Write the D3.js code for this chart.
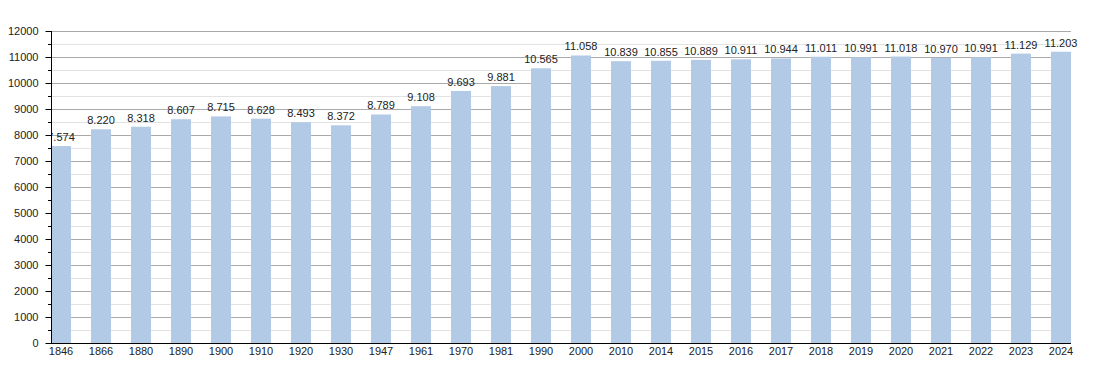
<!DOCTYPE html>
<html>
<head>
<meta charset="utf-8">
<script src="https://cdn.jsdelivr.net/npm/d3@7"></script>
<style>
  body { margin: 0; background: #fff; }
  text { font-family: "Liberation Sans", Arial, sans-serif; font-size: 11px; fill: #222; }
</style>
</head>
<body>
<svg id="chart" width="1100" height="373"></svg>
<script>
// population by census year
var years = ["1846", "1866", "1880", "1890", "1900", "1910", "1920", "1930", "1947", "1961",
             "1970", "1981", "1990", "2000", "2010", "2014", "2015", "2016", "2017", "2018",
             "2019", "2020", "2021", "2022", "2023", "2024"];
var population = [7574, 8220, 8318, 8607, 8715, 8628, 8493, 8372, 8789, 9108,
                  9693, 9881, 10565, 11058, 10839, 10855, 10889, 10911, 10944, 11011,
                  10991, 11018, 10970, 10991, 11129, 11203];
var yTicks = [0, 1000, 2000, 3000, 4000, 5000, 6000, 7000, 8000, 9000, 10000, 11000, 12000];
var yMinor = [500, 1500, 2500, 3500, 4500, 5500, 6500, 7500, 8500, 9500, 10500, 11500];

var plotLeft = 51, plotRight = 1071, plotTop = 31, plotBottom = 343;

var svg = d3.select("#chart");

var x = d3.scaleBand()
          .domain(years)
          .range([plotLeft, plotRight])
          .paddingInner(0.5)
          .paddingOuter(0);

var y = d3.scaleLinear()
          .domain([0, 12000])
          .range([plotBottom, plotTop]);

// minor grid
svg.append("g")
   .selectAll("line")
   .data(yMinor)
   .enter()
   .append("line")
   .attr("x1", plotLeft).attr("x2", plotRight)
   .attr("y1", d => y(d) + 0.5).attr("y2", d => y(d) + 0.5)
   .style("stroke", "#e2e2e2");

// major grid
svg.append("g")
   .selectAll("line")
   .data(yTicks.slice(1))
   .enter()
   .append("line")
   .attr("x1", plotLeft).attr("x2", plotRight)
   .attr("y1", d => y(d) + 0.5).attr("y2", d => y(d) + 0.5)
   .style("stroke", "#aaaaaa");

// bars
svg.append("g")
   .selectAll("rect")
   .data(population)
   .enter()
   .append("rect")
   .attr("x", (d, i) => x(years[i]))
   .attr("width", x.bandwidth())
   .attr("y", d => y(d))
   .attr("height", d => plotBottom - y(d))
   .style("fill", "#b2cae6");

// value labels, clipped at the y axis
svg.append("clipPath").attr("id", "plotclip")
   .append("rect").attr("x", plotLeft).attr("y", 0).attr("width", 1100 - plotLeft).attr("height", 373);

var fmt = d3.formatLocale({decimal: ",", thousands: ".", grouping: [3], currency: ["", ""]}).format(",");

svg.append("g")
   .attr("clip-path", "url(#plotclip)")
   .selectAll("text")
   .data(population)
   .enter()
   .append("text")
   .attr("x", (d, i) => x(years[i]) + x.bandwidth() / 2)
   .attr("y", d => y(d) - 5)
   .attr("text-anchor", "middle")
   .text(d => fmt(d));

// y axis
var yAxis = svg.append("g")
   .attr("transform", "translate(" + (plotLeft + 0.5) + ",0)")
   .call(d3.axisLeft(y).tickValues(yTicks).tickSize(6).tickPadding(7).tickFormat(d3.format("d")));
yAxis.select(".domain").remove();
yAxis.selectAll("line").attr("stroke", "#000");
yAxis.selectAll("text").style("font-size", "11px").attr("fill", "#222");

svg.append("g")
   .selectAll("line")
   .data(yMinor)
   .enter()
   .append("line")
   .attr("x1", plotLeft - 3).attr("x2", plotLeft)
   .attr("y1", d => y(d) + 0.5).attr("y2", d => y(d) + 0.5)
   .style("stroke", "#000");

svg.append("line")
   .attr("x1", plotLeft + 0.5).attr("x2", plotLeft + 0.5)
   .attr("y1", plotTop).attr("y2", plotBottom + 1)
   .style("stroke", "#000");

// x axis
var xAxis = svg.append("g")
   .attr("transform", "translate(0," + (plotBottom + 0.5) + ")")
   .call(d3.axisBottom(x).tickSize(0).tickPadding(4));
xAxis.select(".domain").remove();
xAxis.selectAll("text").style("font-size", "11px").attr("fill", "#222");

svg.append("line")
   .attr("x1", plotLeft).attr("x2", plotRight)
   .attr("y1", plotBottom + 0.5).attr("y2", plotBottom + 0.5)
   .style("stroke", "#000");
</script>
</body>
</html>
